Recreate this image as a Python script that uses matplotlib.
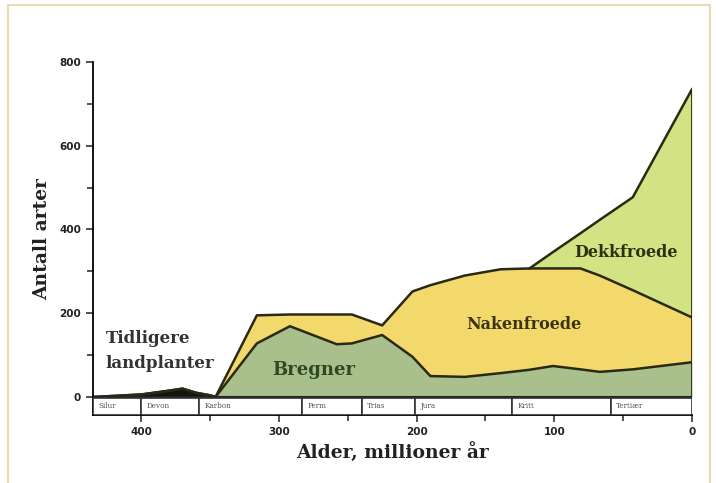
import numpy as np
import matplotlib.pyplot as plt
from matplotlib.patches import Rectangle
from matplotlib.lines import Line2D

# ages (million years) and number of species per group
ages = [435, 400, 380, 370, 360, 350, 346, 316, 292, 258, 247, 225, 203, 190, 165, 139, 118, 101, 81, 67, 43, 0]
early = [0, 6, 15, 20, 10, 4, 0, 0, 0, 0, 0, 0, 0, 0, 0, 0, 0, 0, 0, 0, 0, 0]
ferns = [0, 0, 0, 0, 0, 0, 0, 128, 169, 126, 128, 148, 96, 50, 48, 57, 65, 74, 66, 60, 66, 83]
gymno = [0, 0, 0, 0, 0, 0, 0, 67, 28, 71, 69, 23, 156, 217, 242, 248, 242, 233, 241, 230, 189, 107]
angio = [0, 0, 0, 0, 0, 0, 0, 0, 0, 0, 0, 0, 0, 0, 0, 0, 0, 39, 84, 133, 222, 545]

periods = ['Silur', 'Devon', 'Karbon', 'Perm', 'Trias', 'Jura', 'Kritt', 'Tertiær']
period_start = [435, 400, 358, 283, 240, 201, 131, 59]
period_end = [400, 358, 283, 240, 201, 131, 59, 0]

serif = 'DejaVu Serif'
fig = plt.figure(figsize=(7.16, 4.83), dpi=100)
ax = fig.add_axes([93/716, 68/483, 599/716, 353/483])

x = np.array(ages)
c1 = np.array(early) + np.array(ferns)
c2 = c1 + np.array(gymno)
c3 = c2 + np.array(angio)

edge = '#2a2a14'
ax.fill_between(x, 0, early, color='#151510', lw=0)
ax.fill_between(x, early, c1, color='#a9bf8c', lw=0)
ax.fill_between(x, c1, c2, color='#f3d96c', lw=0)
ax.fill_between(x, c2, c3, color='#d3e384', lw=0)
ax.plot(x, c1, color=edge, lw=1.8)
ax.plot(x, c2, color=edge, lw=1.8)
ax.plot(x[16:], c3[16:], color=edge, lw=1.8)
ax.vlines(0, 0, c3[-1], color=edge, lw=2)

# geological periods band under the curves
for name, s, e in zip(periods, period_start, period_end):
    ax.add_patch(Rectangle((e, -43), s - e, 41, facecolor='white',
                           edgecolor='#333333', lw=1.2, zorder=3))
    ax.text(s - 4, -22, name, fontsize=5.2, color='#555555',
            family=serif, va='center', ha='left', zorder=4)
ax.axhline(0, color='#222222', lw=1.5, zorder=2)

ax.text(275, 64, 'Bregner', fontsize=13, fontweight='bold', color='#2f4a22',
        family=serif, ha='center', va='center')
ax.text(122, 172, 'Nakenfroede', fontsize=11.5, fontweight='bold', color='#3a3310',
        family=serif, ha='center', va='center')
ax.text(48, 345, 'Dekkfroede', fontsize=11.5, fontweight='bold', color='#2b3010',
        family=serif, ha='center', va='center')
ax.text(426, 110, 'Tidligere\nlandplanter', fontsize=12, fontweight='bold',
        color='#333333', family=serif, ha='left', va='center', linespacing=1.6)

ax.set_xlim(435, 0)
ax.set_ylim(-43, 800)
ax.set_xticks([400, 300, 200, 100, 0])
ax.set_xticks([350, 250, 150, 50], minor=True)
ax.set_yticks([0, 200, 400, 600, 800])
ax.set_yticks([100, 300, 500, 700], minor=True)
ax.tick_params(which='both', direction='out', color='#333333', width=1.2)
ax.tick_params(which='major', length=5, labelsize=7.5, labelcolor='#222222')
ax.tick_params(which='minor', length=4)
for lab in ax.get_xticklabels() + ax.get_yticklabels():
    lab.set_fontweight('bold')
ax.spines['top'].set_visible(False)
ax.spines['right'].set_visible(False)
ax.spines['left'].set_linewidth(1.3)
ax.spines['bottom'].set_linewidth(1.3)
ax.set_xlabel('Alder, millioner år', fontsize=13.5, fontweight='bold',
              family=serif, color='#222222', labelpad=4)
ax.set_ylabel('Antall arter', fontsize=13.5, fontweight='bold',
              family=serif, color='#222222', labelpad=6)

# thin beige frame around the picture
for xs, ys in [([8/716, 8/716], [0, 1 - 5/483]), ([8/716, 710/716], [1 - 5/483, 1 - 5/483]),
               ([710/716, 710/716], [0, 1 - 5/483])]:
    fig.add_artist(Line2D(xs, ys, color='#e8ddb2', lw=1.5))

fig.savefig('out.png', dpi=100)
